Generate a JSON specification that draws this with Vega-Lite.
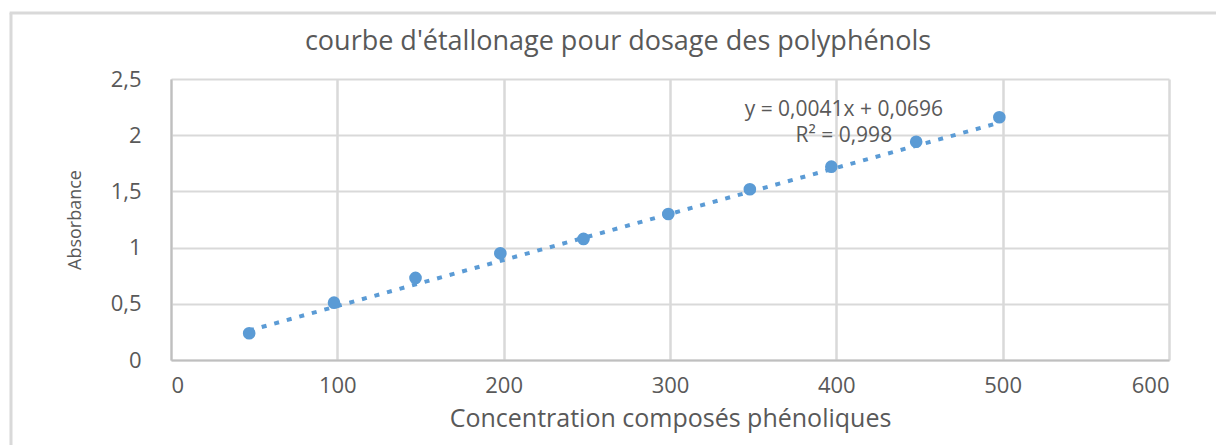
{
  "$schema": "https://vega.github.io/schema/vega-lite/v6.json",
  "width": 998,
  "height": 281,
  "autosize": "none",
  "padding": {"left": 171, "top": 79, "right": 47, "bottom": 85},
  "background": "white",
  "title": {
    "text": "courbe d'étallonage pour dosage des polyphénols",
    "font": "Open Sans",
    "fontSize": 27,
    "fontWeight": "normal",
    "color": "#595959",
    "anchor": "middle",
    "baseline": "bottom",
    "dx": -52,
    "offset": -72
  },
  "datasets": {
    "points": [
      {"concentration": 47, "absorbance": 0.238},
      {"concentration": 98, "absorbance": 0.51},
      {"concentration": 147, "absorbance": 0.73},
      {"concentration": 198, "absorbance": 0.949},
      {"concentration": 248, "absorbance": 1.077},
      {"concentration": 299, "absorbance": 1.299},
      {"concentration": 348, "absorbance": 1.519},
      {"concentration": 397, "absorbance": 1.72},
      {"concentration": 448, "absorbance": 1.942},
      {"concentration": 498, "absorbance": 2.16}
    ],
    "trend": [
      {"concentration": 47, "absorbance": 0.2623},
      {"concentration": 498, "absorbance": 2.1114}
    ]
  },
  "layer": [
    {
      "data": {"name": "trend"},
      "mark": {"type": "line", "color": "#5b9bd5", "strokeWidth": 4, "strokeDash": [5, 8]},
      "encoding": {
        "x": {
          "field": "concentration",
          "type": "quantitative",
          "scale": {"domain": [0, 600], "nice": false, "zero": false},
          "axis": {
            "title": "Concentration composés phénoliques",
            "values": [0, 100, 200, 300, 400, 500, 600],
            "grid": true,
            "gridColor": "#d9d9d9",
            "gridWidth": 2.5,
            "domainColor": "#bfbfbf",
            "domainWidth": 2,
            "ticks": false,
            "tickSize": 0,
            "labelFont": "Open Sans",
            "labelFontSize": 22,
            "labelColor": "#595959",
            "labelPadding": 15,
            "titleFont": "Open Sans",
            "titleFontSize": 25,
            "titleFontWeight": "normal",
            "titleColor": "#595959",
            "titlePadding": 10
          }
        },
        "y": {
          "field": "absorbance",
          "type": "quantitative",
          "scale": {"domain": [0, 2.5], "nice": false, "zero": false},
          "axis": {
            "title": "Absorbance",
            "values": [0, 0.5, 1, 1.5, 2, 2.5],
            "labelExpr": "replace(format(datum.value, '~g'), '.', ',')",
            "grid": true,
            "gridColor": "#d9d9d9",
            "gridWidth": 2,
            "domainColor": "#bfbfbf",
            "domainWidth": 2,
            "ticks": false,
            "tickSize": 0,
            "labelFont": "Open Sans",
            "labelFontSize": 22,
            "labelColor": "#595959",
            "labelPadding": 30,
            "titleFont": "Open Sans",
            "titleFontSize": 18,
            "titleFontWeight": "normal",
            "titleColor": "#595959",
            "titleX": -96,
            "titleY": 140.5,
            "titleBaseline": "middle",
            "titleAlign": "center"
          }
        }
      }
    },
    {
      "data": {"name": "points"},
      "mark": {"type": "circle", "color": "#5b9bd5", "opacity": 1, "size": 160},
      "encoding": {
        "x": {"field": "concentration", "type": "quantitative"},
        "y": {"field": "absorbance", "type": "quantitative"}
      }
    },
    {
      "data": {"values": [{}]},
      "mark": {"type": "text", "font": "Open Sans", "fontSize": 21, "color": "#595959", "align": "center", "baseline": "middle"},
      "encoding": {
        "x": {"datum": 404.5, "type": "quantitative"},
        "y": {"datum": 2.22, "type": "quantitative"},
        "text": {"value": "y = 0,0041x + 0,0696"}
      }
    },
    {
      "data": {"values": [{}]},
      "mark": {"type": "text", "font": "Open Sans", "fontSize": 21, "color": "#595959", "align": "center", "baseline": "middle"},
      "encoding": {
        "x": {"datum": 404.5, "type": "quantitative"},
        "y": {"datum": 1.995, "type": "quantitative"},
        "text": {"value": "R² = 0,998"}
      }
    },
    {
      "data": {"values": [{}]},
      "mark": {"type": "rule", "color": "#d9d9d9", "strokeWidth": 3, "clip": false},
      "encoding": {
        "x": {"datum": -96.2, "type": "quantitative"},
        "y": {"datum": 3.09, "type": "quantitative"},
        "y2": {"datum": -0.9}
      }
    },
    {
      "data": {"values": [{}]},
      "mark": {"type": "rule", "color": "#d9d9d9", "strokeWidth": 3, "clip": false},
      "encoding": {
        "x": {"datum": -97, "type": "quantitative"},
        "x2": {"datum": 640},
        "y": {"datum": 3.087, "type": "quantitative"}
      }
    }
  ],
  "config": {
    "view": {"stroke": null}
  }
}
